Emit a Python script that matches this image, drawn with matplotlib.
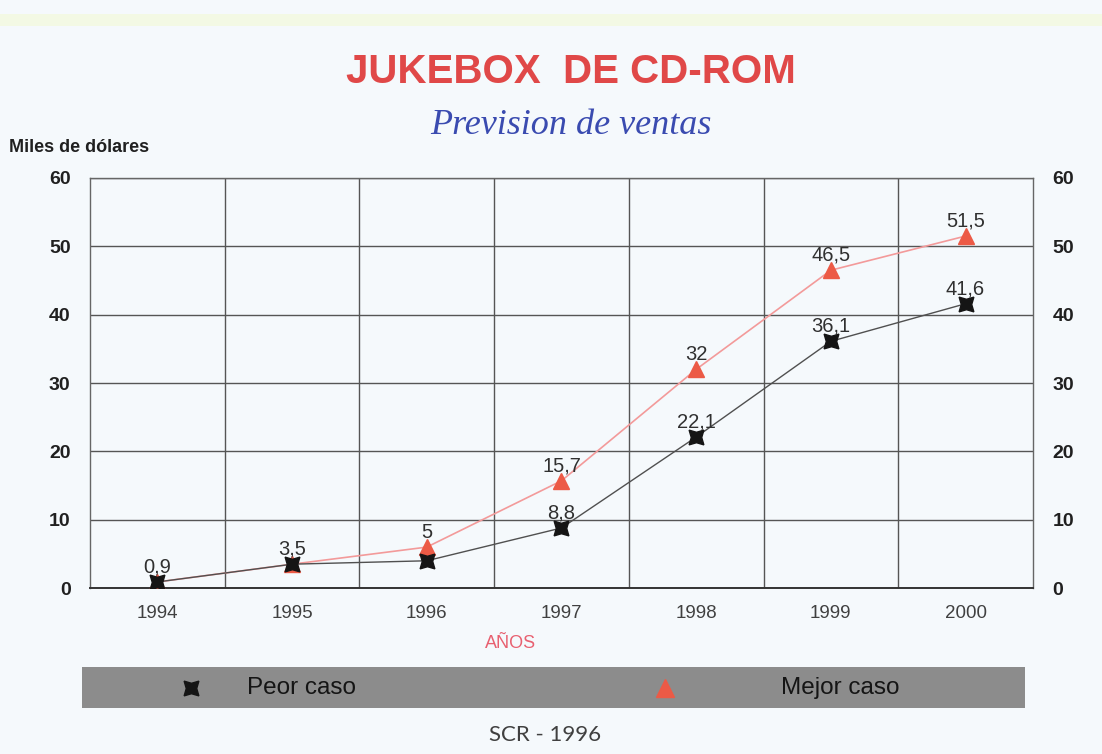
import numpy as np
import matplotlib
matplotlib.use('Agg')
import matplotlib.pyplot as plt
from matplotlib.patches import Rectangle

# data (miles de dolares)
years = ['1994', '1995', '1996', '1997', '1998', '1999', '2000']
peor_caso = [0.9, 3.5, 4.0, 8.8, 22.1, 36.1, 41.6]
mejor_caso = [0.9, 3.5, 6.0, 15.7, 32.0, 46.5, 51.5]
# labels as printed on the chart (only some points carry one)
peor_labels = ['', '', '', '8,8', '22,1', '36,1', '41,6']
mejor_labels = ['0,9', '3,5', '5', '15,7', '32', '46,5', '51,5']
y_ticks = [0, 10, 20, 30, 40, 50, 60]

bg = '#f5f9fc'
fig = plt.figure(figsize=(11.02, 7.54), dpi=100)
fig.patch.set_facecolor(bg)

# faint yellow band at the top of the scan
fig.patches.append(Rectangle((0.0, 0.965), 1, 0.016, transform=fig.transFigure,
                             facecolor='#f3f9e4', edgecolor='none', zorder=0))

ax = fig.add_axes([0.0817, 0.220, 0.8556, 0.544])
ax.set_facecolor(bg)
x = np.arange(len(years))

ax.plot(x, mejor_caso, color='#f39a9a', lw=1.2, zorder=3)
ax.plot(x, peor_caso, color='#505050', lw=1.0, zorder=3)
ax.plot(x, mejor_caso, ls='none', marker='^', ms=12, color='#ec5a46', zorder=4)
ax.plot(x, peor_caso, ls='none', marker=(4, 1, 45), ms=15, color='#151515', zorder=5)

for xi, yi, lab in zip(x, mejor_caso, mejor_labels):
    if lab:
        ax.annotate(lab, (xi, yi), xytext=(0, 4), textcoords='offset points',
                    ha='center', va='bottom', fontsize=14.5, color='#303030',
                    family='Liberation Sans', zorder=6)
for xi, yi, lab in zip(x, peor_caso, peor_labels):
    if lab:
        ax.annotate(lab, (xi, yi), xytext=(0, 4), textcoords='offset points',
                    ha='center', va='bottom', fontsize=14.5, color='#303030',
                    family='Liberation Sans', zorder=6)

ax.set_xlim(-0.5, len(years) - 0.5)
ax.set_ylim(0, 60)
ax.set_yticks(y_ticks)
ax.set_xticks(x)
ax.set_xticklabels(years, fontsize=13.5, color='#404040', family='Liberation Sans')
ax.set_xticks(np.arange(0.5, len(years) - 0.5), minor=True)
ax.tick_params(axis='x', which='both', length=0, pad=12)
ax.tick_params(axis='y', length=0, pad=14, labelleft=True, labelright=True)
for lab in ax.get_yticklabels():
    lab.set_fontweight('bold')
    lab.set_fontsize(14)
    lab.set_color('#202020')
    lab.set_family('Liberation Sans')
ax.grid(True, axis='y', color='#555555', lw=1.0)
ax.grid(True, axis='x', which='minor', color='#555555', lw=1.0)
ax.set_axisbelow(True)
for s in ax.spines.values():
    s.set_color('#666666')
    s.set_linewidth(1.0)
ax.spines['bottom'].set_color('#333333')
ax.spines['bottom'].set_linewidth(1.4)

# titles
fig.text(0.518, 0.905, 'JUKEBOX  DE CD-ROM', ha='center', va='center',
         fontsize=29, fontweight='bold', color='#e04848', family='Liberation Sans')
fig.text(0.518, 0.834, 'Prevision de ventas', ha='center', va='center',
         fontsize=26, style='italic', color='#3a4bb0', family='Liberation Serif')
fig.text(0.008, 0.805, 'Miles de dólares', ha='left', va='center',
         fontsize=13, fontweight='bold', color='#202020', family='Liberation Sans')
fig.text(0.463, 0.147, 'AÑOS', ha='center', va='center',
         fontsize=13, color='#e86070', family='Liberation Sans')

# legend band
lg = fig.add_axes([0.0745, 0.061, 0.856, 0.054])
lg.set_facecolor('#8c8c8c')
lg.set_xlim(0, 1)
lg.set_ylim(0, 1)
lg.set_xticks([])
lg.set_yticks([])
for s in lg.spines.values():
    s.set_visible(False)
lg.plot([0.115], [0.5], ls='none', marker=(4, 1, 45), ms=15, color='#151515')
lg.plot([0.618], [0.5], ls='none', marker='^', ms=13, color='#ec5a46')
lg.text(0.233, 0.48, 'Peor caso', ha='center', va='center', fontsize=17.5,
        color='#151515', family='Liberation Sans')
lg.text(0.804, 0.48, 'Mejor caso', ha='center', va='center', fontsize=17.5,
        color='#151515', family='Liberation Sans')

fig.text(0.495, 0.025, 'SCR - 1996', ha='center', va='center',
         fontsize=16, color='#404040', family='Lato')

fig.savefig('out.png', dpi=100, facecolor=bg)
